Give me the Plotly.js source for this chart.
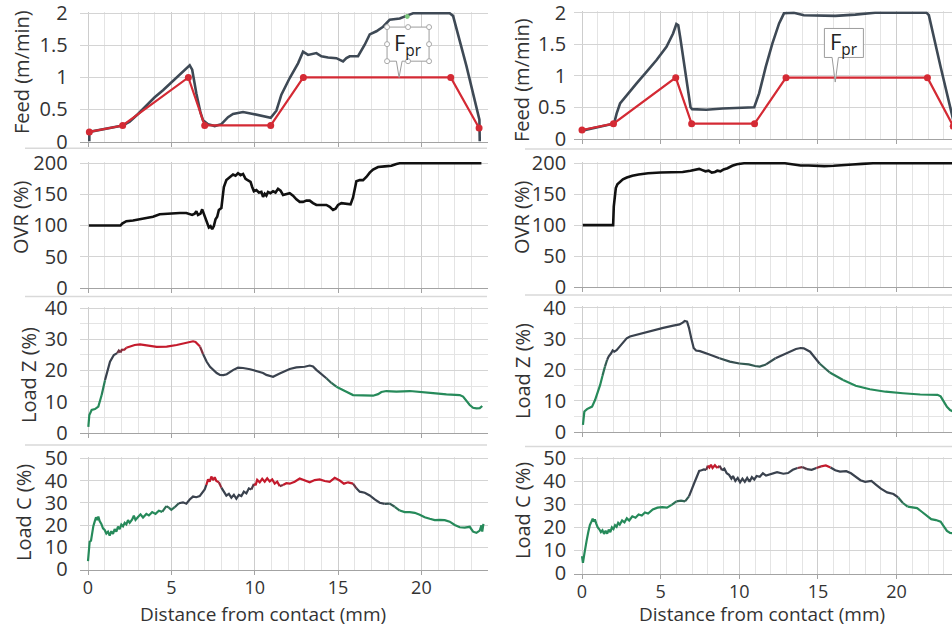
<!DOCTYPE html>
<html>
<head>
<meta charset="utf-8">
<script src="https://cdn.plot.ly/plotly-3.0.1.min.js"></script>
<style>
  html, body { margin: 0; padding: 0; overflow: hidden; background: #fff; }
  #chart { width: 1000px; height: 628px; }
</style>
</head>
<body>
<div id="chart"></div>
<script>
// ---------- Axis titles ----------
const feedTitle = 'Feed (m/min)';
const ovrTitle = 'OVR (%)';
const loadZTitle = 'Load Z (%)';
const loadCTitle = 'Load C (%)';
const distTitle = 'Distance from contact (mm)';
const fprLabel = 'F<sub>pr</sub>';

// ---------- Left test ----------
// programmed feed profile (set points)
const feedSetLeftX = [0.08, 2.08, 6.02, 7.0, 10.96, 12.92, 21.76, 23.46];
const feedSetLeftY = [0.15, 0.25, 1.0, 0.25, 0.25, 1.0, 1.0, 0.21];
// actual feed
const feedActLeftX = [0.08, 0.08, 2.08, 2.5, 3.0, 3.5, 4.0, 4.5, 5.0, 5.5, 5.9, 6.1, 6.25, 6.5, 6.75, 6.9, 7.2, 7.6, 8.0, 8.2, 8.4, 8.7, 9.3, 9.9, 10.5, 10.96, 11.3, 11.6, 12.1, 12.6, 12.9, 13.2, 13.7, 14.0, 14.4, 14.9, 15.3, 15.5, 15.7, 16.2, 16.6, 16.9, 17.3, 17.7, 18.1, 18.7, 19.1, 19.5, 21.7, 21.9, 22.7, 23.3, 23.48, 23.5];
const feedActLeftY = [0.0, 0.15, 0.25, 0.31, 0.43, 0.56, 0.69, 0.80, 0.92, 1.04, 1.15, 1.19, 1.12, 0.75, 0.45, 0.33, 0.27, 0.24, 0.27, 0.33, 0.38, 0.43, 0.46, 0.43, 0.39, 0.37, 0.48, 0.73, 0.99, 1.22, 1.40, 1.35, 1.38, 1.33, 1.31, 1.30, 1.25, 1.30, 1.33, 1.33, 1.51, 1.67, 1.72, 1.79, 1.90, 1.92, 1.96, 2.0, 2.0, 1.96, 1.18, 0.56, 0.34, 0.0];
// override
const ovrLeftX = [0.05, 1.95, 2.05, 2.3, 2.7, 3.1, 3.5, 3.9, 4.3, 4.7, 5.1, 5.5, 5.9, 6.1, 6.25, 6.4, 6.5, 6.6, 6.75, 6.85, 6.95, 7.05, 7.15, 7.25, 7.35, 7.45, 7.55, 7.65, 7.75, 7.85, 8.0, 8.08, 8.15, 8.3, 8.5, 8.7, 8.85, 9.0, 9.15, 9.3, 9.45, 9.6, 9.75, 9.85, 9.95, 10.1, 10.25, 10.4, 10.5, 10.6, 10.7, 10.8, 10.95, 11.1, 11.25, 11.4, 11.55, 11.7, 11.9, 12.1, 12.3, 12.5, 12.7, 12.9, 13.1, 13.3, 13.5, 13.7, 14.0, 14.3, 14.5, 14.7, 14.85, 15.0, 15.2, 15.5, 15.75, 15.9, 16.0, 16.1, 16.3, 16.5, 16.7, 16.9, 17.1, 17.4, 17.8, 18.2, 18.5, 18.7, 23.6];
const ovrLeftY = [100, 100, 103, 107, 108, 110, 111, 114, 118, 119, 120, 120, 120, 118, 117, 119, 123, 117, 119, 126, 118, 113, 103, 97, 99, 94, 99, 110, 114, 125, 128, 150, 162, 173, 178, 182, 180, 184, 181, 183, 175, 172, 170, 162, 155, 157, 153, 154, 146, 151, 148, 154, 152, 155, 153, 159, 156, 149, 150, 152, 148, 142, 138, 138, 140, 140, 136, 133, 133, 133, 130, 125, 127, 133, 136, 135, 134, 145, 160, 171, 173, 173, 178, 185, 190, 194, 195, 196, 199, 200, 200];
// spindle load Z
const loadZLeftX = [0.02, 0.08, 0.22, 0.42, 0.62, 0.82, 1.02, 1.32, 1.55, 1.75, 1.85, 1.95, 2.05, 2.15, 2.3, 2.52, 2.8, 3.12, 3.4, 3.62, 4.12, 4.72, 5.32, 5.92, 6.3, 6.45, 6.72, 6.9, 7.12, 7.32, 7.52, 7.72, 7.92, 8.12, 8.32, 8.52, 8.72, 9.0, 9.3, 9.72, 10.0, 10.3, 10.5, 10.7, 11.1, 11.5, 12.1, 12.5, 13.0, 13.3, 13.5, 13.7, 14.0, 14.3, 14.6, 14.9, 15.2, 15.5, 15.9, 16.5, 17.1, 17.4, 17.6, 17.9, 18.5, 19.3, 19.9, 20.7, 21.5, 22.3, 22.5, 22.7, 22.9, 23.1, 23.3, 23.5, 23.65];
const loadZLeftY = [1.9, 5.7, 7.3, 7.6, 8.4, 12.1, 16.9, 22.8, 25.0, 25.6, 26.4, 25.8, 26.9, 26.5, 27.3, 27.7, 28.2, 28.4, 28.1, 28.0, 27.6, 27.7, 28.2, 29.0, 29.4, 29.2, 27.7, 25.3, 22.8, 21.2, 20.2, 19.2, 18.6, 18.5, 18.8, 19.6, 20.2, 20.9, 20.8, 20.4, 20.0, 19.4, 19.2, 18.6, 18.0, 19.0, 20.5, 21.0, 21.2, 21.6, 21.3, 20.2, 18.8, 17.5, 16.0, 14.8, 13.9, 13.2, 12.1, 11.9, 11.9, 12.4, 13.1, 13.4, 13.2, 13.4, 13.0, 12.7, 12.3, 12.1, 11.6, 10.3, 8.9, 8.0, 7.8, 7.9, 8.6];
// spindle load C
const loadCLeftX = [0.0, 0.05, 0.1, 0.18, 0.25, 0.32, 0.4, 0.48, 0.55, 0.62, 0.7, 0.8, 0.9, 1.0, 1.1, 1.2, 1.3, 1.4, 1.5, 1.6, 1.7, 1.8, 1.9, 2.0, 2.1, 2.2, 2.3, 2.4, 2.5, 2.65, 2.75, 2.85, 3.0, 3.15, 3.3, 3.5, 3.65, 3.85, 4.05, 4.25, 4.45, 4.7, 4.85, 5.0, 5.2, 5.45, 5.7, 5.9, 6.1, 6.3, 6.5, 6.7, 6.85, 7.0, 7.1, 7.2, 7.3, 7.4, 7.5, 7.6, 7.7, 7.85, 8.0, 8.15, 8.3, 8.45, 8.6, 8.75, 8.9, 9.05, 9.2, 9.35, 9.5, 9.65, 9.8, 9.95, 10.05, 10.15, 10.3, 10.45, 10.6, 10.75, 10.9, 11.05, 11.2, 11.35, 11.5, 11.7, 11.9, 12.1, 12.4, 12.7, 13.0, 13.3, 13.6, 13.9, 14.2, 14.5, 14.8, 15.1, 15.35, 15.6, 15.9, 16.1, 16.3, 16.6, 16.9, 17.2, 17.5, 17.8, 18.1, 18.4, 18.7, 19.0, 19.3, 19.6, 19.9, 20.2, 20.5, 20.8, 21.1, 21.4, 21.7, 22.0, 22.3, 22.6, 22.9, 23.1, 23.3, 23.5, 23.6, 23.65, 23.72];
const loadCLeftY = [3.8, 9.5, 12.5, 13.0, 17.5, 19.5, 21.5, 23.5, 22.2, 23.8, 21.8, 20.5, 18.5, 17.8, 16.2, 17.0, 15.2, 17.2, 16.0, 18.2, 17.0, 19.3, 18.2, 20.2, 19.4, 21.0, 20.3, 22.2, 21.0, 22.5, 24.2, 22.3, 23.6, 24.8, 23.4, 25.0, 24.3, 25.8, 25.0, 26.4, 25.9, 28.5, 27.8, 26.8, 28.0, 29.8, 30.2, 29.6, 31.5, 32.8, 32.5, 33.0, 34.8, 36.0, 38.0, 40.5, 39.5, 41.8, 40.2, 41.5, 39.8, 39.2, 36.8, 35.0, 33.2, 34.0, 32.3, 33.6, 31.8, 33.5, 33.0, 35.0, 34.2, 36.5, 36.0, 38.5, 37.8, 40.3, 39.2, 40.8, 39.5, 41.0, 39.6, 40.5, 38.6, 39.5, 37.5, 38.0, 38.8, 38.6, 39.5, 40.9, 40.0, 39.2, 40.2, 40.5, 39.8, 39.4, 41.2, 40.0, 38.6, 39.2, 38.6, 36.5, 35.0, 34.5, 33.3, 31.5, 30.0, 29.5, 29.6, 28.2, 26.5, 25.8, 25.8, 25.5, 24.6, 23.5, 22.8, 22.2, 22.3, 22.2, 21.5, 20.0, 19.0, 18.8, 19.2, 17.0, 16.5, 17.5, 19.8, 17.0, 20.5];

// ---------- Right test ----------
const feedSetRightX = [0.0, 2.0, 5.96, 6.97, 10.97, 12.97, 21.96, 23.6];
const feedSetRightY = [0.14, 0.24, 0.97, 0.24, 0.24, 0.97, 0.97, 0.2];
const feedActRightX = [0.0, 2.0, 2.1, 2.2, 2.42, 2.84, 3.47, 4.1, 4.74, 5.37, 5.79, 6.0, 6.12, 6.25, 6.46, 6.74, 6.9, 7.0, 7.9, 8.95, 10.42, 10.95, 11.26, 11.68, 12.1, 12.53, 12.84, 13.47, 14.1, 15.05, 16.1, 17.37, 18.63, 21.9, 22.05, 22.8, 23.26, 23.5, 23.6];
const feedActRightY = [0.13, 0.24, 0.30, 0.40, 0.56, 0.69, 0.88, 1.06, 1.25, 1.46, 1.67, 1.82, 1.80, 1.60, 1.25, 0.72, 0.50, 0.47, 0.46, 0.48, 0.49, 0.50, 0.72, 1.14, 1.51, 1.83, 1.99, 2.0, 1.96, 1.96, 1.95, 1.97, 2.0, 2.0, 1.96, 1.14, 0.66, 0.45, 0.3];
const ovrRightX = [0.05, 1.98, 2.02, 2.08, 2.15, 2.25, 2.4, 2.6, 2.85, 3.2, 3.6, 4.2, 5.0, 5.8, 6.4, 6.9, 7.2, 7.45, 7.65, 7.85, 8.05, 8.25, 8.45, 8.6, 8.8, 9.0, 9.25, 9.55, 9.85, 10.3, 12.9, 13.2, 13.5, 13.9, 14.4, 14.9, 15.4, 16.0, 16.6, 17.2, 17.8, 18.5, 24.0];
const ovrRightY = [100, 100, 130, 150, 160, 166, 170, 174, 177, 180, 182, 184, 185, 185, 186, 188, 190, 191, 189, 187, 188, 185, 186, 188, 187, 190, 192, 196, 198.5, 200, 200, 199, 197, 196.5, 196.5, 195.5, 195.5, 196, 196.5, 198, 199, 200, 200];
const loadZRightX = [0.06, 0.15, 0.32, 0.5, 0.64, 0.83, 1.0, 1.15, 1.3, 1.46, 1.6, 1.7, 1.85, 1.95, 2.05, 2.2, 2.35, 2.52, 2.7, 2.84, 3.05, 3.26, 3.9, 4.52, 5.16, 5.8, 6.2, 6.4, 6.53, 6.68, 6.8, 6.95, 7.1, 7.25, 7.5, 8.1, 8.74, 9.4, 10.0, 10.6, 11.0, 11.3, 11.7, 12.3, 13.0, 13.6, 13.9, 14.1, 14.5, 15.1, 15.75, 16.6, 17.4, 18.3, 19.3, 20.4, 21.5, 22.6, 22.8, 23.0, 23.2, 23.4, 23.6];
const loadZRightY = [2.2, 6.5, 7.3, 7.8, 8.1, 10.2, 12.5, 15.0, 18.0, 21.0, 23.2, 24.3, 25.3, 26.2, 25.8, 26.3, 27.2, 28.2, 29.2, 30.1, 30.7, 31.0, 31.7, 32.8, 33.5, 34.2, 34.6, 35.2, 35.7, 35.5, 33.5, 30.1, 27.0, 26.2, 26.0, 24.9, 23.7, 22.6, 22.0, 21.7, 21.2, 21.0, 21.7, 23.7, 25.3, 26.7, 27.0, 26.9, 25.8, 22.0, 19.1, 16.7, 14.8, 13.7, 12.9, 12.4, 12.0, 11.9, 11.4, 9.7, 8.0, 7.0, 6.5];
const loadCRightX = [0.0, 0.06, 0.15, 0.21, 0.3, 0.4, 0.5, 0.6, 0.68, 0.75, 0.82, 0.9, 1.0, 1.1, 1.2, 1.3, 1.4, 1.5, 1.6, 1.7, 1.8, 1.9, 2.0, 2.1, 2.2, 2.3, 2.4, 2.55, 2.7, 2.85, 3.0, 3.2, 3.4, 3.6, 3.8, 4.0, 4.2, 4.5, 4.8, 5.1, 5.4, 5.7, 6.0, 6.3, 6.55, 6.8, 7.0, 7.15, 7.3, 7.45, 7.6, 7.75, 7.9, 8.0, 8.1, 8.2, 8.3, 8.45, 8.6, 8.75, 8.9, 9.05, 9.2, 9.35, 9.5, 9.6, 9.75, 9.9, 10.05, 10.2, 10.35, 10.5, 10.65, 10.8, 10.95, 11.1, 11.3, 11.5, 11.7, 12.0, 12.4, 12.8, 13.1, 13.4, 13.7, 14.0, 14.3, 14.6, 14.9, 15.2, 15.5, 15.8, 16.1, 16.4, 16.8, 17.1, 17.4, 17.7, 18.0, 18.4, 18.7, 19.0, 19.4, 19.8, 20.1, 20.4, 20.7, 21.0, 21.3, 21.6, 21.9, 22.2, 22.5, 22.8, 23.0, 23.2, 23.4, 23.6];
const loadCRightY = [7.5, 4.6, 8.5, 10.4, 14.5, 18.0, 21.0, 22.5, 23.8, 22.5, 23.5, 21.8, 20.0, 19.2, 18.0, 18.8, 17.2, 18.5, 17.3, 19.0, 18.0, 20.0, 19.3, 21.0, 20.3, 22.0, 21.2, 23.0, 22.2, 24.0, 23.0, 24.8, 24.2, 25.6, 25.2, 26.5, 26.0, 27.8, 28.6, 28.8, 28.6, 29.8, 31.3, 31.6, 31.3, 33.5, 36.5, 39.5, 42.0, 44.5, 44.8, 45.2, 45.0, 46.8, 46.0, 47.2, 45.8, 47.0, 45.8, 46.8, 44.8, 45.5, 43.5, 42.8, 41.2, 42.3, 40.2, 41.5, 39.6, 41.2, 39.8, 41.5, 39.8, 41.8, 40.8, 42.3, 42.0, 43.5, 42.5, 43.2, 44.0, 43.3, 43.6, 45.0, 45.8, 46.2, 45.3, 45.0, 45.8, 46.5, 46.9, 46.0, 44.8, 44.2, 44.4, 43.5, 42.1, 40.5, 39.8, 40.2, 38.5, 36.8, 35.2, 34.5, 33.0, 30.6, 29.0, 28.8, 28.4, 26.8, 25.0, 23.6, 23.2, 22.5, 20.5, 18.5, 17.6, 17.5];

// ---------- Geometry (pixels on a 1000 x 628 canvas) ----------
const W = 1000, H = 628;
const X_RANGE = [-0.5, 24];
const columns = [
  { x0: 88,  ppu: 16.67, standoff: 11, titleX: [22, 20, 28, 23], titleY: [72, 218, 375, 513], sepX: [25, 487], sepY: [148.3, 296.5, 445], distX: 263 },
  { x0: 582, ppu: 15.73, standoff: 7,  titleX: [522, 521, 522, 522], titleY: [80, 218, 371, 511], sepX: [525, 1000], sepY: [149, 295, 446.5], distX: 762 }
];
// pixel rows: [pixel of top value, pixel of zero]
const rowsPx = [
  [[13.3, 141.5], [163.3, 287.7], [308.3, 432.7], [458.3, 569.5]],
  [[12.7, 138.8], [163.3, 287.0], [307.7, 431.7], [458.3, 573.5]]
];
const rowSpec = [
  { top: 2,   dtick: 0.5, minor: null },
  { top: 200, dtick: 50,  minor: null },
  { top: 40,  dtick: 10,  minor: 5 },
  { top: 50,  dtick: 10,  minor: null }
];
const rowTitles = [feedTitle, ovrTitle, loadZTitle, loadCTitle];

// ---------- Styling ----------
const FONT = 'Open Sans, Noto Sans, sans-serif';
const TXT = '#333333';
const FEED_DARK = '#3e4955';
const FEED_RED = '#d42a34';
const OVR_COL = '#111111';
const GREEN = [38, 138, 90], DARK = [58, 66, 78], RED = [196, 26, 44];

function mix(a, b, t) {
  return a.map((v, i) => Math.round(v + (b[i] - v) * t));
}
// level bands: [green until, slate from, slate until, red from]
function loadColor(v, band) {
  const [g1, d0, d1, r0] = band;
  const q = t => Math.round(t * 6) / 6;
  let c;
  if (v <= g1) c = GREEN;
  else if (v < d0) c = mix(GREEN, DARK, q((v - g1) / (d0 - g1)));
  else if (v <= d1) c = DARK;
  else if (v < r0) c = mix(DARK, RED, q((v - d1) / (r0 - d1)));
  else c = RED;
  return 'rgb(' + c.join(',') + ')';
}
// a load curve split into runs coloured by level (green low, slate mid, red high)
function gradientTraces(xs, ys, n, band) {
  const out = [];
  let cur = null;
  for (let i = 0; i < xs.length - 1; i++) {
    const col = loadColor((ys[i] + ys[i + 1]) / 2, band);
    if (cur && cur.line.color === col) {
      cur.x.push(xs[i + 1]); cur.y.push(ys[i + 1]);
    } else {
      cur = {
        type: 'scatter', mode: 'lines', x: [xs[i], xs[i + 1]], y: [ys[i], ys[i + 1]],
        xaxis: 'x' + n, yaxis: 'y' + n, hoverinfo: 'skip', showlegend: false,
        line: { color: col, width: 2.2 }
      };
      out.push(cur);
    }
  }
  return out;
}
function lineTrace(xs, ys, n, color, width, extra) {
  return Object.assign({
    type: 'scatter', mode: 'lines', x: xs, y: ys, xaxis: 'x' + n, yaxis: 'y' + n,
    hoverinfo: 'skip', showlegend: false, line: { color: color, width: width }
  }, extra || {});
}

const traces = [];
// left column: axes 1..4
traces.push(lineTrace(feedActLeftX, feedActLeftY, 1, FEED_DARK, 2.6));
traces.push(lineTrace(feedSetLeftX, feedSetLeftY, 1, FEED_RED, 2.2, { mode: 'lines+markers', marker: { color: FEED_RED, size: 7 } }));
traces.push(lineTrace(ovrLeftX, ovrLeftY, 2, OVR_COL, 2.6));
traces.push(...gradientTraces(loadZLeftX, loadZLeftY, 3, [14, 18.5, 25.5, 27.3]));
traces.push(...gradientTraces(loadCLeftX, loadCLeftY, 4, [26, 30, 37, 38.5]));
// right column: axes 5..8
traces.push(lineTrace(feedActRightX, feedActRightY, 5, FEED_DARK, 2.6));
traces.push(lineTrace(feedSetRightX, feedSetRightY, 5, FEED_RED, 2.2, { mode: 'lines+markers', marker: { color: FEED_RED, size: 7 } }));
traces.push(lineTrace(ovrRightX, ovrRightY, 6, OVR_COL, 2.6));
traces.push(...gradientTraces(loadZRightX, loadZRightY, 7, [17, 24, 60, 70]));
traces.push(...gradientTraces(loadCRightX, loadCRightY, 8, [29, 34, 45.6, 46.4]));

const layout = {
  width: W, height: H,
  margin: { l: 0, r: 0, t: 0, b: 0 },
  paper_bgcolor: '#ffffff', plot_bgcolor: '#ffffff',
  showlegend: false,
  font: { family: FONT, size: 20, color: TXT },
  shapes: [], annotations: []
};

columns.forEach((col, c) => {
  rowSpec.forEach((spec, r) => {
    const n = c * 4 + r + 1;
    const [pTop, pZero] = rowsPx[c][r];
    const ppv = (pZero - pTop) / spec.top;
    const yMax = spec.top * 1.012;
    const pTopExt = pZero - yMax * ppv;
    const pxL = col.x0 + col.ppu * X_RANGE[0];
    const pxR = col.x0 + col.ppu * X_RANGE[1];
    layout['xaxis' + n] = {
      domain: [pxL / W, pxR / W], anchor: 'y' + n, range: X_RANGE,
      tick0: 0, dtick: 5, showgrid: true, gridcolor: '#cdcdcd', gridwidth: 1,
      minor: { dtick: 1, showgrid: true, gridcolor: '#e4e4e4', gridwidth: 1 },
      zeroline: false, showline: true, linecolor: '#a3a3a3', linewidth: 1.2,
      ticks: 'outside', ticklen: 4, tickcolor: '#a3a3a3',
      showticklabels: r === 3, ticklabelstandoff: -2, ticklabeloverflow: 'allow',
      tickfont: { family: FONT, size: 18, color: TXT }, fixedrange: true
    };
    const ya = {
      domain: [1 - pZero / H, 1 - pTopExt / H], anchor: 'x' + n, range: [0, yMax],
      tick0: 0, dtick: spec.dtick, showgrid: true, gridcolor: '#d4d4d4', gridwidth: 1,
      zeroline: false, showline: false, ticks: '',
      ticklabelstandoff: col.standoff, ticklabeloverflow: 'allow',
      tickfont: { family: FONT, size: 20, color: TXT }, fixedrange: true
    };
    if (spec.minor) ya.minor = { dtick: spec.minor, showgrid: true, gridcolor: '#e4e4e4', gridwidth: 1 };
    layout['yaxis' + n] = ya;

    layout.annotations.push({
      xref: 'paper', yref: 'paper', x: col.titleX[r] / W, y: 1 - col.titleY[r] / H,
      xanchor: 'center', yanchor: 'middle', textangle: -90, showarrow: false,
      text: rowTitles[r], font: { family: FONT, size: 20, color: TXT }
    });
  });
  // chart-area borders between stacked panels
  col.sepY.forEach(py => {
    layout.shapes.push({
      type: 'line', xref: 'paper', yref: 'paper', layer: 'below',
      x0: col.sepX[0] / W, x1: col.sepX[1] / W, y0: 1 - py / H, y1: 1 - py / H,
      line: { color: '#d9d9d9', width: 1.5 }
    });
  });
  layout.annotations.push({
    xref: 'paper', yref: 'paper', x: col.distX / W, y: 1 - 613.5 / H,
    xanchor: 'center', yanchor: 'middle', showarrow: false,
    text: distTitle, font: { family: FONT, size: 19, color: TXT }
  });
});

// speech-bubble callouts marking the programmed feed
function callout(n, x0, x1, yb, yt, ta, tb, tipX, tipY) {
  const p = 'M' + x0 + ',' + yt + ' L' + x1 + ',' + yt + ' L' + x1 + ',' + yb +
    ' L' + tb + ',' + yb + ' L' + tipX + ',' + tipY + ' L' + ta + ',' + yb +
    ' L' + x0 + ',' + yb + ' Z';
  layout.shapes.push({
    type: 'path', xref: 'x' + n, yref: 'y' + n, path: p, layer: 'above',
    fillcolor: '#ffffff', line: { color: '#9c9c9c', width: 1 }
  });
  layout.annotations.push({
    xref: 'x' + n, yref: 'y' + n, x: (x0 + x1) / 2, y: (yb + yt) / 2,
    xanchor: 'center', yanchor: 'middle', showarrow: false,
    text: fprLabel, font: { family: FONT, size: 22, color: '#222' }
  });
}
callout(1, 17.94, 20.46, 1.253, 1.785, 18.5, 18.84, 18.66, 1.0);
callout(5, 15.41, 17.89, 1.29, 1.75, 15.9, 16.3, 16.1, 0.9);

// selection handles on the left callout
const hx = [17.94, 19.2, 20.46], hy = [1.253, 1.519, 1.785];
hx.forEach((x, i) => hy.forEach((y, j) => {
  if (i === 1 && j === 1) return;
  layout.shapes.push({
    type: 'circle', xref: 'x1', yref: 'y1', xsizemode: 'pixel', ysizemode: 'pixel',
    xanchor: x, yanchor: y, x0: -2.5, x1: 2.5, y0: -2.5, y1: 2.5, layer: 'above',
    fillcolor: '#ffffff', line: { color: '#a8a8a8', width: 1 }
  });
}));
layout.shapes.push({
  type: 'circle', xref: 'x1', yref: 'y1', xsizemode: 'pixel', ysizemode: 'pixel',
  xanchor: 19.15, yanchor: 1.95, x0: -2, x1: 2, y0: -2, y1: 2, layer: 'above',
  fillcolor: '#7fc97f', line: { color: '#7fc97f', width: 1 }
});

Plotly.newPlot('chart', traces, layout, { staticPlot: true, displayModeBar: false });
</script>
</body>
</html>
